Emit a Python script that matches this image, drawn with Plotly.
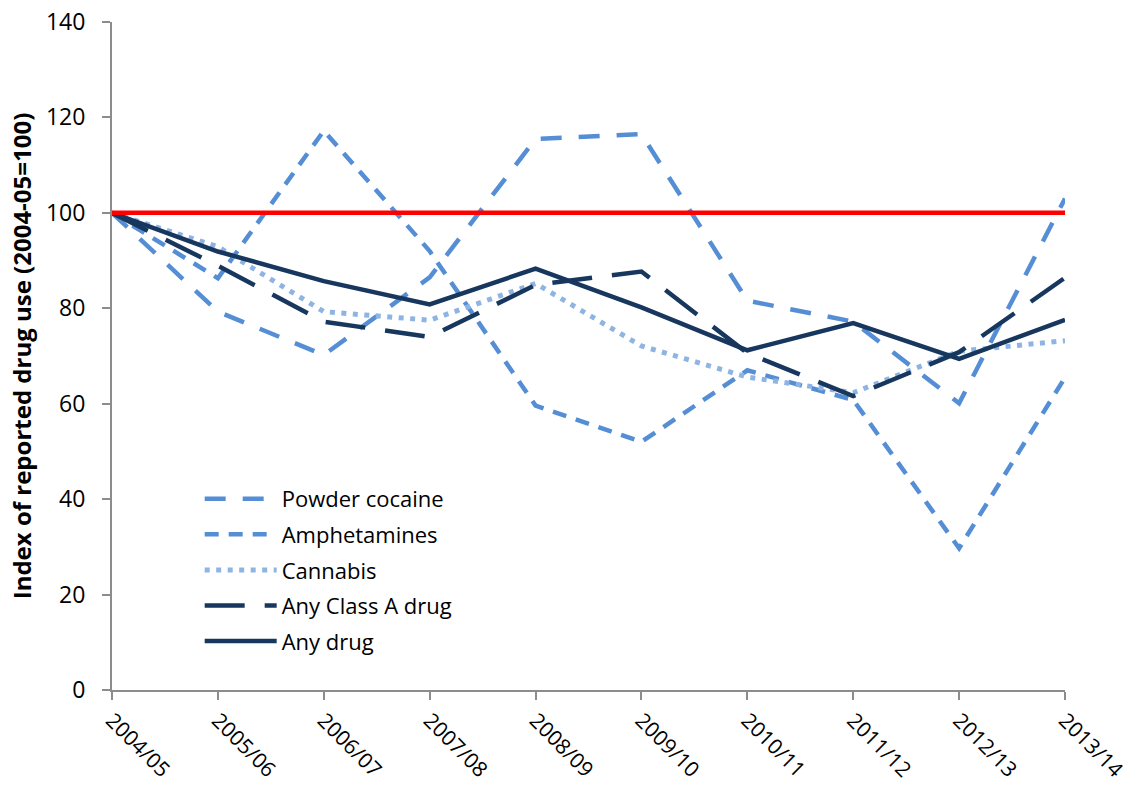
import plotly.graph_objects as go

years = ["2004/05", "2005/06", "2006/07", "2007/08", "2008/09",
         "2009/10", "2010/11", "2011/12", "2012/13", "2013/14"]
powder_cocaine = [100, 79.3, 70.2, 86.5, 115.5, 116.5, 81.6, 77.2, 60.1, 103]
amphetamines = [100, 86.3, 117.2, 92, 59.6, 52, 67, 60.8, 29.7, 65.5]
cannabis = [100, 92.9, 79.3, 77.5, 85.2, 72.1, 65.6, 62.3, 71, 73.2]
any_class_a = [100, 88.9, 77.2, 74, 84.9, 87.7, 70.6, 61.6, 70.8, 86.4]
any_drug = [100, 91.9, 85.7, 80.8, 88.3, 80.2, 71.2, 76.9, 69.4, 77.6]
baseline = [100] * len(years)

FONT = "'Open Sans', Lato, sans-serif"
MID = "#558ED5"
LIGHT = "#8EB4E3"
DARK = "#17375E"

fig = go.Figure()
series = [
    ("Powder cocaine", powder_cocaine, MID, "21px,17px", 4.5),
    ("Amphetamines", amphetamines, MID, "14px,10px", 4.5),
    ("Cannabis", cannabis, LIGHT, "5px,6.5px", 5),
    ("Any Class A drug", any_class_a, DARK, "40px,20px", 4.5),
    ("Any drug", any_drug, DARK, "solid", 4.5),
]
for i, (name, vals, col, dash, w) in enumerate(series):
    fig.add_trace(go.Scatter(
        x=years, y=vals, mode="lines", name=name,
        legendgroup=f"g{i}",
        line=dict(color=col, width=w, dash=dash),
    ))

fig.add_trace(go.Scatter(
    x=years, y=baseline, mode="lines", name="2004-05 baseline",
    showlegend=False, line=dict(color="#FF0000", width=4.5),
))

fig.update_layout(
    width=1139, height=787,
    margin=dict(l=112, r=74, t=22, b=97),
    paper_bgcolor="white", plot_bgcolor="white",
    font=dict(family=FONT, size=22, color="#000000"),
    showlegend=True,
    legend=dict(
        x=0.092, y=0.3175, xanchor="left", yanchor="top",
        bgcolor="rgba(0,0,0,0)", font=dict(size=22, family=FONT),
        traceorder="grouped", tracegroupgap=4, itemwidth=72,
    ),
)
fig.update_xaxes(
    type="category", range=[0, 9], automargin=False,
    showline=True, linecolor="#8C8C8C", linewidth=2,
    ticks="outside", ticklen=8, tickcolor="#8C8C8C", tickwidth=2,
    tickangle=45, showgrid=False, zeroline=False,
    tickfont=dict(size=21, family=FONT),
)
fig.update_yaxes(
    range=[0, 140], dtick=20, automargin=False,
    showline=True, linecolor="#8C8C8C", linewidth=2,
    ticks="outside", ticklen=8, tickcolor="#8C8C8C", tickwidth=2,
    showgrid=False, zeroline=False,
    tickfont=dict(size=23, family=FONT),
    ticklabelstandoff=12,
    title=dict(text="<b>Index of reported drug use (2004-05=100)</b>",
               font=dict(size=24, family=FONT), standoff=8),
)

fig.write_html("out.html",
               config={"displayModeBar": False},
               post_script="document.body.style.margin='0';")
